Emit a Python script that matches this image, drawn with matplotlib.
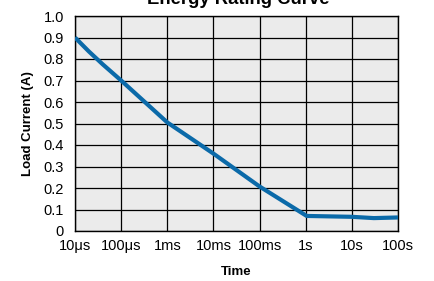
import numpy as np
import matplotlib
matplotlib.use('Agg')
import matplotlib.pyplot as plt

plt.rcParams['font.family'] = ['Liberation Sans', 'DejaVu Sans']

# curve (time in seconds, current in A)
time_s = [1e-5, 2e-5, 4e-5, 1e-4, 1e-3, 1e-2, 1e-1, 1.05, 10, 30, 100]
current_a = [0.90, 0.835, 0.775, 0.70, 0.505, 0.36, 0.207, 0.07, 0.066, 0.060, 0.063]

tick_times = [1e-5, 1e-4, 1e-3, 1e-2, 1e-1, 1, 10, 100]
tick_labels = ['10μs', '100μs', '1ms', '10ms', '100ms', '1s', '10s', '100s']
y_ticks = [0, 0.1, 0.2, 0.3, 0.4, 0.5, 0.6, 0.7, 0.8, 0.9, 1.0]
y_labels = ['0', '0.1', '0.2', '0.3', '0.4', '0.5', '0.6', '0.7', '0.8', '0.9', '1.0']

fig = plt.figure(figsize=(4.34, 2.81), dpi=100)
ax = fig.add_axes([75/434, 50/281, 323/434, 215/281])
ax.set_facecolor('#ebebeb')

ax.plot(time_s, current_a, color='#0b6aa9', lw=3, solid_capstyle='butt', zorder=3)

ax.set_xscale('log')
ax.set_xlim(1e-5, 100)
ax.set_ylim(0, 1.0)
ax.set_xticks(tick_times)
ax.set_xticklabels(tick_labels)
ax.minorticks_off()
ax.set_yticks(y_ticks)
ax.set_yticklabels(y_labels)
ax.tick_params(length=0, labelsize=10.5, colors='black')
ax.tick_params(axis='y', pad=8)
ax.tick_params(axis='x', pad=6)
ax.grid(True, color='black', lw=0.9)
ax.set_axisbelow(True)
for s in ax.spines.values():
    s.set_color('black')
    s.set_linewidth(1.0)

ax.set_xlabel('Time', fontsize=9.5, fontweight='bold', labelpad=9)
ax.set_ylabel('Load Current (A)', fontsize=9.5, fontweight='bold', labelpad=7)
# title sits partly above the top edge, as in the source picture
fig.text(238/434, 1 - 4/281, 'Energy Rating Curve', ha='center', va='baseline',
         fontsize=13.3, fontweight='bold')

fig.savefig('out.png', dpi=100)
